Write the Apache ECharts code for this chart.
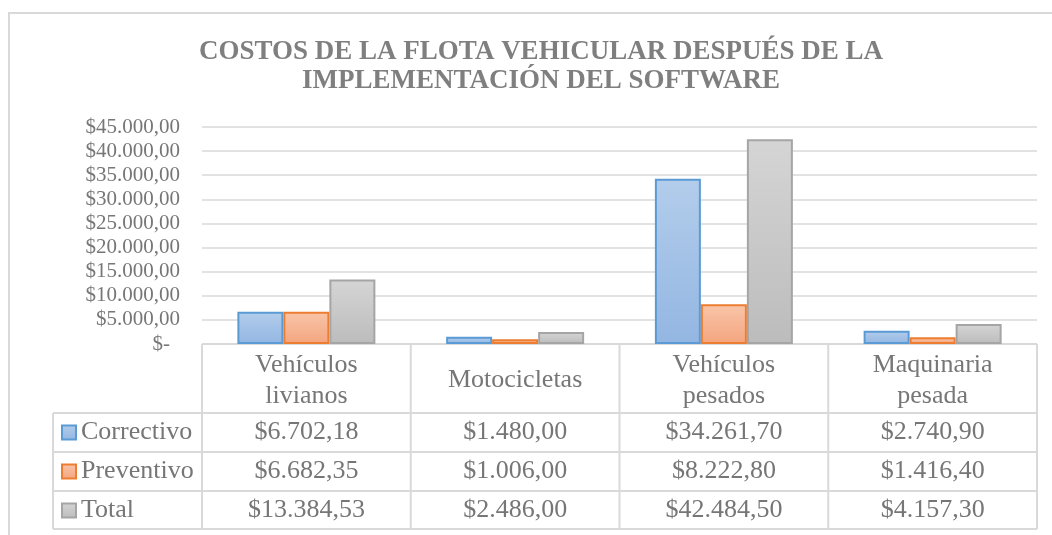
<!DOCTYPE html>
<html lang="es">
<head>
<meta charset="utf-8">
<title>Costos de la flota vehicular</title>
<script src="https://cdn.jsdelivr.net/npm/echarts@6/dist/echarts.min.js"></script>
<style>
  html, body { margin: 0; padding: 0; background: #fff; }
  #chart { width: 1052px; height: 535px; }
</style>
</head>
<body>
<div id="chart"></div>
<script>
const categorias = [['Vehículos', 'livianos'], ['Motocicletas'], ['Vehículos', 'pesados'], ['Maquinaria', 'pesada']];
const series = ['Correctivo', 'Preventivo', 'Total'];
const correctivo = [6702.18, 1480.00, 34261.70, 2740.90];
const preventivo = [6682.35, 1006.00, 8222.80, 1416.40];
const total = [13384.53, 2486.00, 42484.50, 4157.30];

const GRIS_TXT = '#767676';
const GRIS_LINEA = '#d9d9d9';
const FUENTE = '"Liberation Serif", "Times New Roman", serif';

// formato moneda estilo es: $13.384,53
function moneda(v) {
    const partes = v.toFixed(2).split('.');
    const entero = partes[0].replace(/\B(?=(\d{3})+(?!\d))/g, '.');
    return '$' + entero + ',' + partes[1];
}

function degradado(arriba, abajo) {
    return new echarts.graphic.LinearGradient(0, 0, 0, 1, [
        { offset: 0, color: arriba },
        { offset: 1, color: abajo }
    ]);
}

function initCostosChart() {
    const chartDom = document.getElementById('chart');
    const chart = echarts.init(chartDom);

    // geometría de la tabla (coincide con el grid)
    const izq = 202, der = 1037;
    const colW = (der - izq) / categorias.length;
    const filas = [344, 413, 452, 491, 529];
    const leyendaIzq = 53;

    const elementos = [];
    const linea = (x1, y1, x2, y2) => elementos.push({
        type: 'line',
        shape: { x1: x1, y1: y1, x2: x2, y2: y2 },
        style: { stroke: GRIS_LINEA, lineWidth: 2 },
        silent: true
    });
    const texto = (t, x, y) => elementos.push({
        type: 'text',
        x: x, y: y,
        style: {
            text: t, fill: GRIS_TXT, font: '26px ' + FUENTE,
            align: 'center', verticalAlign: 'middle', lineHeight: 31
        },
        silent: true
    });

    // borde exterior del área del gráfico
    elementos.push({
        type: 'rect',
        shape: { x: 9, y: 13, width: 1200, height: 700 },
        style: { fill: 'none', stroke: GRIS_LINEA, lineWidth: 2 },
        silent: true
    });

    // líneas horizontales
    linea(izq, filas[0], der, filas[0]);
    for (let i = 1; i < filas.length; i++) linea(leyendaIzq, filas[i], der, filas[i]);
    // líneas verticales
    linea(leyendaIzq, filas[1], leyendaIzq, filas[4]);
    for (let c = 0; c <= categorias.length; c++) {
        linea(izq + c * colW, filas[0], izq + c * colW, filas[4]);
    }

    // encabezados y valores
    const valores = [correctivo, preventivo, total];
    categorias.forEach((cat, c) => {
        const cx = izq + (c + 0.5) * colW;
        texto(cat.join('\n'), cx, (filas[0] + filas[1]) / 2 + 2);
        valores.forEach((arr, r) => {
            texto(moneda(arr[c]), cx, (filas[r + 1] + filas[r + 2]) / 2);
        });
    });

    const estilos = [
        { color: degradado('#b3cdeb', '#93b6e2'), borderColor: '#5b9bd5' },
        { color: degradado('#f9c5a9', '#f3a57e'), borderColor: '#ed7d31' },
        { color: degradado('#d5d5d5', '#bcbcbc'), borderColor: '#a5a5a5' }
    ];

    const option = {
        animation: false,
        title: {
            text: 'COSTOS DE LA FLOTA VEHICULAR DESPUÉS DE LA\nIMPLEMENTACIÓN DEL SOFTWARE',
            left: 536,
            top: 33,
            textAlign: 'center',
            textStyle: {
                fontFamily: FUENTE,
                fontSize: 27,
                fontWeight: 'bold',
                color: '#7f7f7f',
                lineHeight: 29
            }
        },
        legend: {
            data: series,
            orient: 'vertical',
            left: 61,
            top: filas[1],
            padding: 0,
            itemWidth: 14,
            itemHeight: 14,
            itemGap: 0,
            icon: 'rect',
            selectedMode: false,
            textStyle: {
                fontFamily: FUENTE,
                fontSize: 26,
                lineHeight: 39,
                color: GRIS_TXT
            }
        },
        grid: {
            left: izq,
            right: 1052 - der,
            top: 127,
            bottom: 535 - filas[0]
        },
        xAxis: {
            type: 'category',
            data: categorias.map(c => c.join(' ')),
            axisLine: { show: false },
            axisTick: { show: false },
            axisLabel: { show: false }
        },
        yAxis: {
            type: 'value',
            min: 0,
            max: 45000,
            interval: 5000,
            axisLine: { show: false },
            axisTick: { show: false },
            splitLine: { lineStyle: { color: GRIS_LINEA, width: 1.5 } },
            axisLabel: {
                margin: 22,
                fontFamily: FUENTE,
                fontSize: 21,
                color: GRIS_TXT,
                formatter: v => v === 0 ? '{cero|$-}' : moneda(v),
                rich: {
                    cero: { fontFamily: FUENTE, fontSize: 21, color: GRIS_TXT, padding: [0, 10, 0, 0] }
                }
            }
        },
        series: series.map((nombre, i) => ({
            name: nombre,
            type: 'bar',
            data: valores[i],
            barWidth: 46,
            barGap: '0%',
            itemStyle: {
                color: estilos[i].color,
                borderColor: estilos[i].borderColor,
                borderWidth: 2
            }
        })),
        graphic: { elements: elementos }
    };

    chart.setOption(option);
    window.addEventListener('resize', () => chart.resize());
}

document.addEventListener('DOMContentLoaded', function () {
    if (typeof echarts === 'undefined') {
        console.error('ECharts no se cargó');
        return;
    }
    try {
        initCostosChart();
    } catch (error) {
        console.error('Error al iniciar el gráfico:', error);
    }
});
</script>
</body>
</html>
